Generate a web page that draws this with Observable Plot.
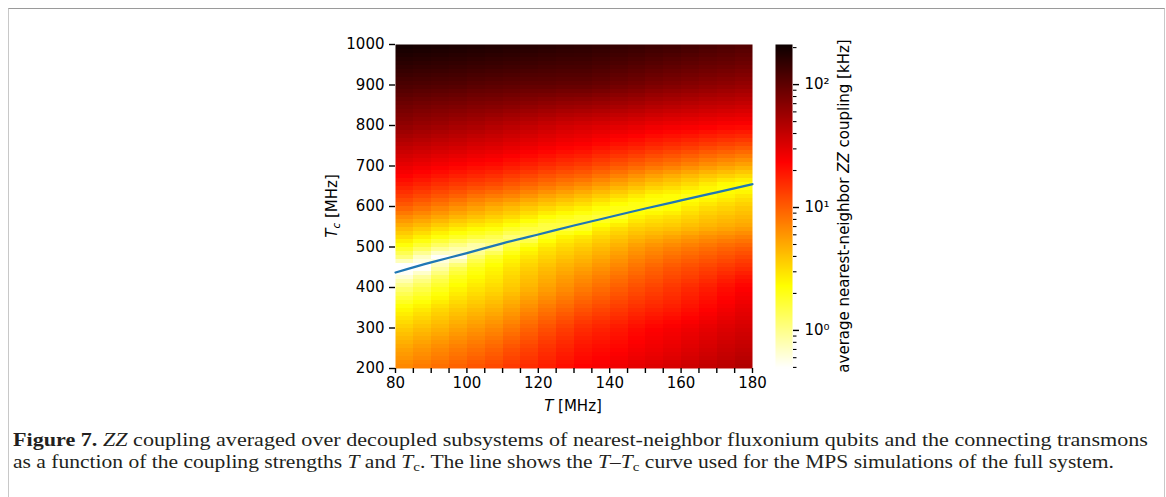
<!DOCTYPE html>
<html><head><meta charset="utf-8">
<script src="https://cdn.jsdelivr.net/npm/d3@7"></script>
<script src="https://cdn.jsdelivr.net/npm/@observablehq/plot@0.6"></script>
<style>
html,body{margin:0;padding:0;background:#fff;}
body{width:1166px;height:497px;position:relative;overflow:hidden;}
#frame{position:absolute;left:8px;top:8px;width:1155px;height:600px;border:1px solid #c8c8c8;border-top-color:#9a9a9a;}
#main,#cbar{position:absolute;left:0;top:0;}
#caption{position:absolute;left:13px;top:429px;font-family:"Liberation Serif",serif;color:#231f20;line-height:22px;white-space:nowrap;font-size:18.5px;}
#caption div{display:block;height:22px;}
#caption span.line{display:inline-block;transform-origin:0 50%;}
#caption sub{font-size:70%;vertical-align:-0.2em;line-height:0;}
</style></head><body>
<div id="frame"></div>
<div id="main"></div><div id="cbar"></div>
<div id="caption"><div><span class="line" id="cap1"><b>Figure 7.</b> <i>ZZ</i> coupling averaged over decoupled subsystems of nearest-neighbor fluxonium qubits and the connecting transmons</span></div><div><span class="line" id="cap2">as a function of the coupling strengths <i>T</i> and <i>T</i><sub>c</sub>. The line shows the <i>T</i>–<i>T</i><sub>c</sub> curve used for the MPS simulations of the full system.</span></div></div>
<script>
// ---- data ----
// each column spans [T_left, T_left + 5] MHz
const T_left = [80, 85, 90, 95, 100, 105, 110, 115, 120, 125, 130, 135, 140, 145, 150, 155, 160, 165, 170, 175];
const T_step = 5;
const Tc_rows = [200, 250, 300, 350, 400, 425, 450, 475, 500, 525, 550, 575, 600, 625, 650, 675, 700, 750, 800, 850, 900, 950, 1000];
// log10 of average ZZ coupling [kHz], one line per T column, values along Tc_rows
const log10ZZ = [
  [0.84,0.72,0.56,0.37,0.05,-0.20,-0.40,0.05,0.30,0.50,0.66,0.82,1.00,1.13,1.25,1.36,1.45,1.62,1.80,1.93,2.07,2.19,2.30],
  [0.89,0.77,0.61,0.43,0.15,-0.05,-0.35,-0.15,0.18,0.42,0.60,0.77,0.94,1.08,1.21,1.32,1.42,1.60,1.77,1.91,2.06,2.18,2.29],
  [0.94,0.82,0.66,0.50,0.27,0.12,-0.10,-0.30,0.05,0.33,0.53,0.71,0.88,1.03,1.16,1.28,1.39,1.57,1.75,1.89,2.05,2.17,2.28],
  [0.99,0.87,0.72,0.56,0.38,0.28,0.12,-0.25,-0.05,0.26,0.47,0.65,0.82,0.98,1.12,1.24,1.36,1.55,1.72,1.88,2.04,2.16,2.27],
  [1.04,0.92,0.77,0.61,0.45,0.37,0.28,0.08,-0.15,0.20,0.42,0.60,0.76,0.92,1.08,1.21,1.33,1.52,1.70,1.86,2.02,2.15,2.26],
  [1.09,0.97,0.82,0.66,0.50,0.44,0.38,0.25,-0.05,0.15,0.38,0.55,0.70,0.88,1.05,1.18,1.31,1.50,1.67,1.85,2.01,2.14,2.25],
  [1.15,1.04,0.89,0.73,0.57,0.52,0.46,0.38,0.20,0.05,0.30,0.50,0.65,0.84,1.00,1.13,1.27,1.47,1.64,1.83,2.00,2.13,2.24],
  [1.20,1.10,0.97,0.81,0.65,0.60,0.54,0.46,0.35,0.05,0.22,0.43,0.60,0.78,0.95,1.09,1.23,1.44,1.61,1.81,1.99,2.12,2.23],
  [1.26,1.17,1.05,0.89,0.73,0.67,0.61,0.53,0.45,0.28,0.15,0.35,0.55,0.72,0.90,1.04,1.19,1.41,1.58,1.79,1.99,2.11,2.22],
  [1.32,1.23,1.12,0.96,0.80,0.74,0.67,0.59,0.51,0.40,0.15,0.30,0.50,0.67,0.85,1.00,1.15,1.38,1.55,1.77,1.98,2.10,2.21],
  [1.37,1.29,1.19,1.03,0.87,0.80,0.72,0.64,0.56,0.45,0.22,0.25,0.45,0.62,0.80,0.97,1.12,1.36,1.53,1.76,1.98,2.10,2.20],
  [1.40,1.32,1.23,1.08,0.93,0.86,0.78,0.70,0.62,0.52,0.40,0.20,0.38,0.56,0.74,0.91,1.07,1.32,1.51,1.74,1.96,2.08,2.19],
  [1.43,1.35,1.27,1.13,0.99,0.92,0.84,0.76,0.68,0.58,0.47,0.25,0.32,0.50,0.68,0.85,1.02,1.28,1.49,1.72,1.93,2.06,2.17],
  [1.47,1.39,1.32,1.18,1.05,0.98,0.91,0.83,0.75,0.64,0.53,0.40,0.28,0.44,0.62,0.79,0.97,1.25,1.47,1.70,1.91,2.04,2.16],
  [1.50,1.42,1.36,1.22,1.10,1.03,0.97,0.88,0.80,0.68,0.56,0.45,0.28,0.38,0.56,0.73,0.92,1.21,1.44,1.67,1.88,2.02,2.14],
  [1.53,1.45,1.39,1.25,1.15,1.08,1.02,0.93,0.84,0.72,0.58,0.48,0.33,0.35,0.52,0.68,0.88,1.18,1.42,1.65,1.86,2.00,2.13],
  [1.57,1.49,1.42,1.30,1.20,1.12,1.06,0.97,0.88,0.76,0.62,0.53,0.42,0.30,0.47,0.63,0.83,1.15,1.41,1.63,1.84,1.98,2.11],
  [1.61,1.53,1.46,1.35,1.25,1.17,1.10,1.01,0.92,0.80,0.66,0.58,0.48,0.34,0.40,0.58,0.78,1.11,1.39,1.61,1.82,1.96,2.09],
  [1.64,1.57,1.50,1.40,1.31,1.23,1.14,1.05,0.96,0.83,0.69,0.61,0.52,0.40,0.33,0.54,0.74,1.08,1.37,1.60,1.80,1.95,2.07],
  [1.68,1.60,1.53,1.45,1.36,1.28,1.18,1.09,0.99,0.86,0.72,0.64,0.56,0.45,0.30,0.50,0.70,1.05,1.36,1.58,1.78,1.93,2.05]
];
// T–Tc curve used for the MPS simulations
const curveT  = [80, 90, 100, 110, 120, 130, 140, 150, 160, 170, 180];
const curveTc = [437, 462, 485, 509, 531, 553, 574, 595, 615, 635, 655];
// ticks
const xTickValues = [80,85,90,95,100,105,110,115,120,125,130,135,140,145,150,155,160,165,170,175,180];
const xTickLabels = [80,100,120,140,160,180];
const yTickValues = [200,300,400,500,600,700,800,900,1000];
const cbarMajor = [1, 10, 100];
const cbarMajorLabels = ["10\u2070", "10\u00B9", "10\u00B2"];
const cbarMinor = [0.5,0.6,0.7,0.8,0.9,2,3,4,5,6,7,8,9,20,30,40,50,60,70,80,90,200];
const zzMin = 0.49, zzMax = 212; // colour-bar limits [kHz]

// ---- colour map: matplotlib "hot", reversed ----
function hotR(t) {
  t = Math.max(0, Math.min(1, t));
  const s = 1 - t;
  const r = s < 0.365079 ? 0.0416 + (1 - 0.0416) * s / 0.365079 : 1;
  const g = s < 0.365079 ? 0 : s < 0.746032 ? (s - 0.365079) / (0.746032 - 0.365079) : 1;
  const b = s < 0.746032 ? 0 : (s - 0.746032) / (1 - 0.746032);
  return `rgb(${Math.round(r*255)},${Math.round(g*255)},${Math.round(b*255)})`;
}
const lo = Math.log10(zzMin), hi = Math.log10(zzMax);
const colorScale = {type: "linear", domain: [lo, hi], interpolate: hotR, clamp: true};

// samples placed just inside both edges of each T column, so the library's
// barycentric interpolation only blends along Tc within a column
const eps = 0.02;
const cells = [];
T_left.forEach((t, i) => Tc_rows.forEach((tc, j) => {
  cells.push({T: t + eps, Tc: tc, v: log10ZZ[i][j]});
  cells.push({T: t + T_step - eps, Tc: tc, v: log10ZZ[i][j]});
}));
const curve = curveT.map((t, i) => ({T: t, Tc: curveTc[i]}));

const FONT = "DejaVu Sans";
function svgMark(build) {
  return () => { const g = d3.create("svg:g"); build(g); return g.node(); };
}

// ---- main heat map ----
const W = 800, H = 430;
const main = Plot.plot({
  width: W, height: H,
  marginLeft: 395, marginRight: W - 752, marginTop: 44, marginBottom: H - 368,
  style: {fontFamily: FONT, fontSize: "15px", color: "#000", background: "transparent", overflow: "visible"},
  x: {domain: [80, 180]},
  y: {domain: [200, 1000]},
  color: colorScale,
  marks: [
    Plot.raster(cells, {x: "T", y: "Tc", fill: "v", x1: 80, x2: 180, y1: 200, y2: 1000,
      width: 20, height: 80, interpolate: "barycentric", imageRendering: "pixelated"}),
    Plot.line(curve, {x: "T", y: "Tc", stroke: "#1f77b4", strokeWidth: 2.2, curve: "natural"}),
    Plot.axisX({ticks: xTickValues, tickFormat: d => xTickLabels.includes(d) ? String(d) : "",
      tickSize: 5, tickPadding: 4, label: null, strokeWidth: 1.4, fill: "#000"}),
    Plot.axisY({ticks: yTickValues, tickFormat: d => String(d), tickSize: 6, tickPadding: 5,
      label: null, strokeWidth: 1.4, fill: "#000"}),
    svgMark(g => {
      const ty = g.append("text").attr("transform", "translate(337,206) rotate(-90)")
        .attr("text-anchor", "middle").attr("font-family", FONT).attr("font-size", 15).attr("fill", "#000");
      ty.append("tspan").attr("font-style", "italic").text("T");
      ty.append("tspan").attr("font-style", "italic").attr("font-size", 10.5).attr("dy", 3).text("c");
      ty.append("tspan").attr("dy", -3).text(" [MHz]");
      const tx = g.append("text").attr("x", 573).attr("y", 411)
        .attr("text-anchor", "middle").attr("font-family", FONT).attr("font-size", 15).attr("fill", "#000");
      tx.append("tspan").attr("font-style", "italic").text("T");
      tx.append("tspan").text(" [MHz]");
    })
  ]
});
document.getElementById("main").appendChild(main);

// ---- colour bar ----
const CW = 900;
const cbar = Plot.plot({
  width: CW, height: H,
  marginLeft: 775, marginRight: CW - 792, marginTop: 44, marginBottom: H - 368,
  style: {fontFamily: FONT, fontSize: "15px", color: "#000", background: "transparent", overflow: "visible"},
  x: {domain: [0, 1], axis: null},
  y: {type: "log", domain: [zzMin, zzMax], axis: null},
  color: colorScale,
  marks: [
    Plot.raster({fill: (x, y) => Math.log10(y), x1: 0, x2: 1, y1: zzMin, y2: zzMax, width: 1, height: 324, imageRendering: "pixelated"}),
    Plot.axisY(cbarMinor, {anchor: "right", tickSize: 3.5, tickFormat: () => "", strokeWidth: 1.1, label: null}),
    Plot.axisY(cbarMajor, {anchor: "right", tickSize: 6, tickPadding: 6, strokeWidth: 1.4, fill: "#000",
      tickFormat: d => cbarMajorLabels[cbarMajor.indexOf(d)], label: null}),
    svgMark(g => {
      const t = g.append("text").attr("transform", "translate(849,206) rotate(-90)")
        .attr("text-anchor", "middle").attr("font-family", FONT).attr("font-size", 15).attr("fill", "#000");
      t.append("tspan").text("average nearest-neighbor ");
      t.append("tspan").attr("font-style", "italic").text("ZZ");
      t.append("tspan").text(" coupling [kHz]");
    })
  ]
});
document.getElementById("cbar").appendChild(cbar);

// fit each caption line to its length in the reference with a slight horizontal stretch
function fitLine(id, target) {
  const el = document.getElementById(id);
  const w0 = el.getBoundingClientRect().width;
  el.style.transform = `scaleX(${(target / w0).toFixed(4)})`;
}
fitLine("cap1", 1135);
fitLine("cap2", 1101);
</script>
</body></html>
